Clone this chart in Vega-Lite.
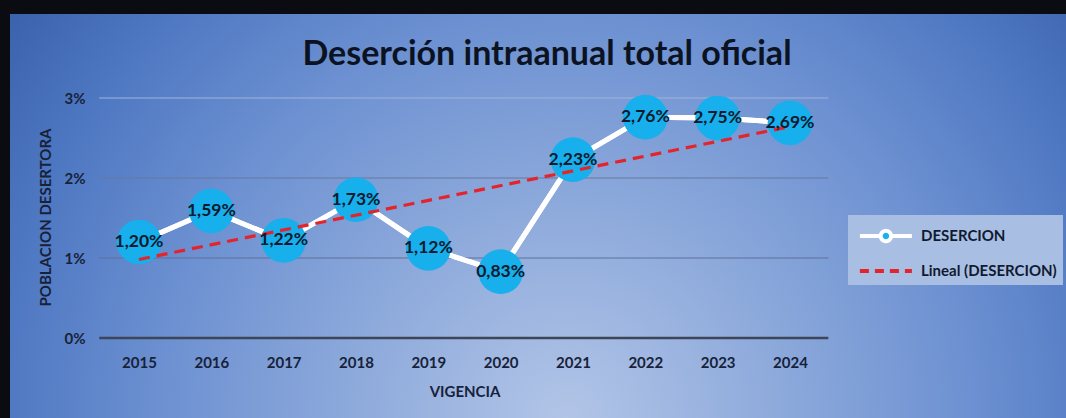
{
  "$schema": "https://vega.github.io/schema/vega-lite/v6.json",
  "width": 1056,
  "height": 404,
  "autosize": {"type": "none"},
  "padding": {"left": 10, "top": 14, "right": 0, "bottom": 0},
  "background": "#0b0b12",
  "config": {
    "locale": {"number": {"decimal": ",", "thousands": ".", "grouping": [3], "currency": ["", " €"]}},
    "view": {"stroke": null},
    "font": "Lato",
    "axis": {"grid": false, "domain": false, "ticks": false, "zindex": 2}
  },
  "title": {
    "text": "Deserción intraanual total oficial",
    "font": "Lato",
    "fontSize": 34,
    "fontWeight": "bold",
    "color": "#0b1322",
    "anchor": "middle",
    "offset": -58,
    "dx": 9
  },
  "data": {
    "values": [
      {"year": 2015, "rate": 0.0120},
      {"year": 2016, "rate": 0.0159},
      {"year": 2017, "rate": 0.0122},
      {"year": 2018, "rate": 0.0173},
      {"year": 2019, "rate": 0.0112},
      {"year": 2020, "rate": 0.0083},
      {"year": 2021, "rate": 0.0223},
      {"year": 2022, "rate": 0.0276},
      {"year": 2023, "rate": 0.0275},
      {"year": 2024, "rate": 0.0269}
    ]
  },
  "layer": [
    {
      "data": {"values": [{}]},
      "mark": {
        "type": "rect",
        "fill": {
          "gradient": "radial",
          "x1": 0.526, "y1": 0.693, "r1": 0,
          "x2": 0.526, "y2": 0.693, "r2": 0.644,
          "stops": [
            {"offset": 0, "color": "#b2c5e7"},
            {"offset": 0.3, "color": "#8fabdc"},
            {"offset": 0.6, "color": "#6c90d1"},
            {"offset": 0.82, "color": "#5079c3"},
            {"offset": 1, "color": "#3b63ae"}
          ]
        }
      },
      "encoding": {}
    },
    {
      "mark": {"type": "line", "strokeWidth": 5},
      "encoding": {
        "x": {
          "field": "year", "type": "quantitative",
          "scale": {"domain": [2013.2165, 2027.816], "nice": false, "zero": false},
          "axis": {
            "title": "VIGENCIA", "values": [2015, 2016, 2017, 2018, 2019, 2020, 2021, 2022, 2023, 2024],
            "format": "d", "orient": "bottom", "offset": -80, "domain": false, "ticks": false, "grid": false, "zindex": 2,
            "labelFont": "Lato", "labelFontSize": 15, "labelFontWeight": "bold", "labelColor": "#17223a",
            "labelPadding": 17, "labelFlush": false, "labelOverlap": false,
            "titleFont": "Lato", "titleFontSize": 15, "titleFontWeight": "bold", "titleColor": "#17223a",
            "titleX": 454.5, "titleY": 53, "titleBaseline": "middle"
          }
        },
        "y": {
          "field": "rate", "type": "quantitative",
          "scale": {"domain": [-0.01, 0.0405], "nice": false, "zero": false},
          "axis": {
            "title": "POBLACION DESERTORA", "values": [0, 0.01, 0.02, 0.03], "format": ".0%",
            "orient": "left", "offset": -90, "domain": false, "ticks": false, "grid": false, "zindex": 2,
            "labelFont": "Lato", "labelFontSize": 15, "labelFontWeight": "bold", "labelColor": "#17223a",
            "labelPadding": 15, "labelFlush": false,
            "titleFont": "Lato", "titleFontSize": 15, "titleFontWeight": "bold", "titleColor": "#17223a",
            "titleX": -55, "titleY": 203, "titleBaseline": "middle"
          }
        },
        "color": {
          "datum": "DESERCION",
          "scale": {"domain": ["DESERCION", "Lineal (DESERCION)"], "range": ["#ffffff", "#e4242b"]},
          "legend": {
            "title": null, "orient": "none", "legendX": 838, "legendY": 201, "zindex": 2,
            "symbolType": "stroke", "symbolSize": 676, "symbolStrokeWidth": 4,
            "labelFont": "Lato", "labelFontSize": 15, "labelFontWeight": "bold", "labelColor": "#101a30",
            "labelOffset": 37, "rowPadding": 6, "padding": 6,
            "fillColor": "#a9bee3", "strokeColor": null,
            "encode": {
              "symbols": {
                "update": {
                  "shape": {"signal": "datum.value === 'DESERCION' ? 'M-0.7,0H0.9M1.7,0H3.3M0.9,0A0.4,0.4,0,1,1,1.7,0A0.4,0.4,0,1,1,0.9,0' : 'M-0.7,0H3.3'"},
                  "fill": {"signal": "datum.value === 'DESERCION' ? '#19b2ee' : 'transparent'"},
                  "strokeDash": {"signal": "datum.value === 'DESERCION' ? [1,0] : [9,6]"}
                }
              }
            }
          }
        }
      }
    },
    {
      "data": {"values": [{}]},
      "mark": {"type": "rule", "color": "#5f7199", "strokeWidth": 1.2},
      "encoding": {
        "y": {"datum": 0.01, "type": "quantitative"},
        "x": {"datum": 2014.45, "type": "quantitative"},
        "x2": {"datum": 2024.53}
      }
    },
    {
      "data": {"values": [{}]},
      "mark": {"type": "rule", "color": "#66789f", "strokeWidth": 1.2},
      "encoding": {
        "y": {"datum": 0.02, "type": "quantitative"},
        "x": {"datum": 2014.45, "type": "quantitative"},
        "x2": {"datum": 2024.53}
      }
    },
    {
      "data": {"values": [{}]},
      "mark": {"type": "rule", "color": "#9fb3dc", "strokeWidth": 1.2},
      "encoding": {
        "y": {"datum": 0.03, "type": "quantitative"},
        "x": {"datum": 2014.45, "type": "quantitative"},
        "x2": {"datum": 2024.53}
      }
    },
    {
      "data": {"values": [{}]},
      "mark": {"type": "rule", "color": "#3d4657", "strokeWidth": 2.5},
      "encoding": {
        "y": {"datum": 0, "type": "quantitative"},
        "x": {"datum": 2014.45, "type": "quantitative"},
        "x2": {"datum": 2024.53}
      }
    },
    {
      "mark": {"type": "line", "strokeWidth": 5, "color": "#ffffff"},
      "encoding": {
        "x": {"field": "year", "type": "quantitative"},
        "y": {"field": "rate", "type": "quantitative"}
      }
    },
    {
      "mark": {"type": "point", "filled": true, "opacity": 1, "size": 2000, "color": "#17afec"},
      "encoding": {
        "x": {"field": "year", "type": "quantitative"},
        "y": {"field": "rate", "type": "quantitative"}
      }
    },
    {
      "transform": [{"regression": "rate", "on": "year"}],
      "mark": {"type": "line", "strokeWidth": 3.2, "strokeDash": [11, 7]},
      "encoding": {
        "x": {"field": "year", "type": "quantitative"},
        "y": {"field": "rate", "type": "quantitative"},
        "color": {"datum": "Lineal (DESERCION)"}
      }
    },
    {
      "mark": {"type": "text", "font": "Lato", "fontSize": 17.5, "fontWeight": "bold", "color": "#0d1a2f", "align": "center", "baseline": "middle"},
      "encoding": {
        "x": {"field": "year", "type": "quantitative"},
        "y": {"field": "rate", "type": "quantitative"},
        "text": {"field": "rate", "type": "quantitative", "format": ".2%"}
      }
    }
  ]
}
